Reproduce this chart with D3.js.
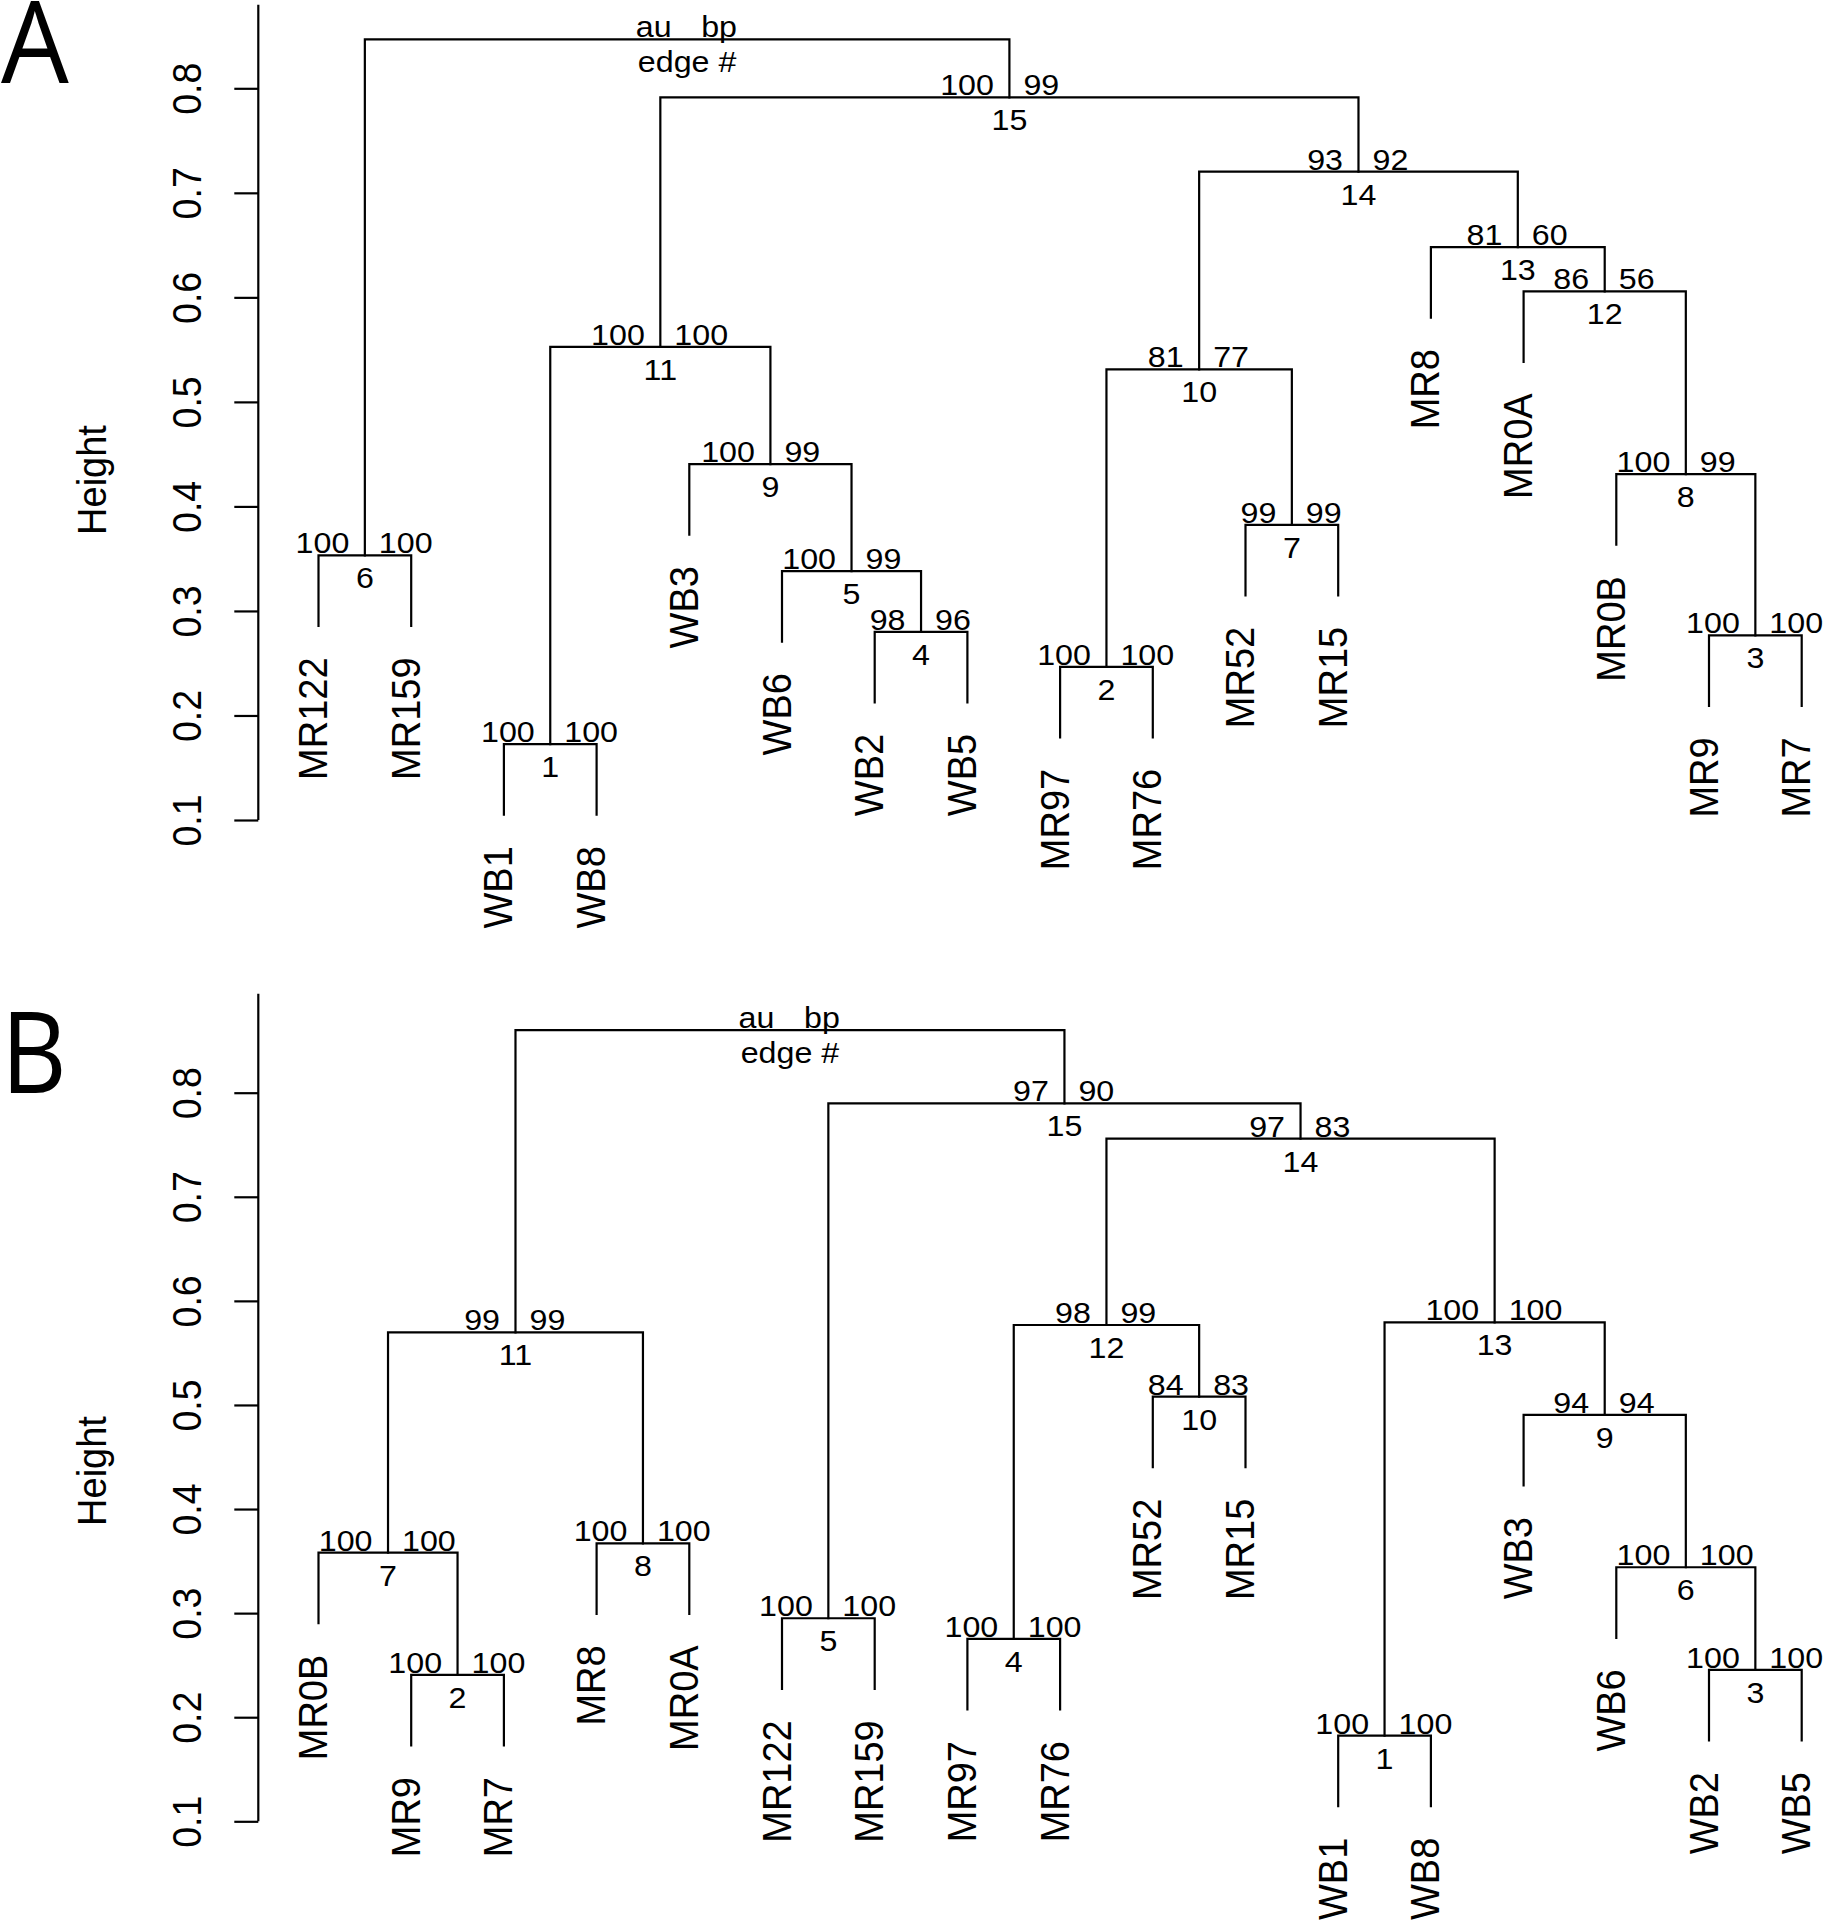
<!DOCTYPE html>
<html><head><meta charset="utf-8">
<script src="https://cdn.jsdelivr.net/npm/d3@7/dist/d3.min.js"></script>
<style>body{margin:0;background:#fff}</style>
</head><body>
<svg id="chart" width="1823" height="1920"></svg>
<script>
// ---------- Panel A data (leaves in display order; merges R-style: negative = leaf, positive = earlier merge) ----------
const leavesA = ["MR122","MR159","WB1","WB8","WB3","WB6","WB2","WB5","MR97","MR76","MR52","MR15","MR8","MR0A","MR0B","MR9","MR7"];
const mergeA = [[-3,-4],[-9,-10],[-16,-17],[-7,-8],[-6,4],[-1,-2],[-11,-12],[-15,3],[-5,5],[2,7],[1,9],[-14,8],[-13,12],[10,13],[11,14],[6,15]];
const heightA = [0.1725,0.2465,0.2766,0.2800,0.3381,0.3531,0.3824,0.4309,0.4405,0.5311,0.5527,0.6057,0.6481,0.7202,0.7914,0.8469];
const auA = [100,100,100,98,100,100,99,100,100,81,100,86,81,93,100];
const bpA = [100,100,100,96,99,100,99,99,99,77,100,56,60,92,99];

// ---------- Panel B data ----------
const leavesB = ["MR0B","MR9","MR7","MR8","MR0A","MR122","MR159","MR97","MR76","MR52","MR15","WB1","WB8","WB3","WB6","WB2","WB5"];
const mergeB = [[-12,-13],[-2,-3],[-16,-17],[-8,-9],[-6,-7],[-15,3],[-1,2],[-4,-5],[-14,6],[-10,-11],[7,8],[4,10],[1,9],[12,13],[5,14],[11,15]];
const heightB = [0.1823,0.2406,0.2454,0.2752,0.2951,0.3441,0.3581,0.3671,0.4904,0.5080,0.5698,0.5768,0.5794,0.7558,0.7898,0.8602];
const auB = [100,100,100,100,100,100,100,100,94,84,99,98,100,97,97];
const bpB = [100,100,100,100,100,100,100,100,94,83,99,99,100,83,90];

// ---------- axis ticks / labels ----------
const tickValues = [0.1,0.2,0.3,0.4,0.5,0.6,0.7,0.8];
const yTitle = "Height";
const panelLetters = ["A","B"];
const rootLabels = {au:"au", bp:"bp", edge:"edge #"};

// ---------- layout ----------
const svg = d3.select("#chart");
const FONT = "'Liberation Sans', Arial, Helvetica, sans-serif";
const SX = 1.06;         // slight horizontal stretch of the original figure
const LW = 2.2;
const axisX = 258.3;

const x = d3.scaleLinear().domain([1, 17]).range([318.5, 1801.7]);

const panels = [
  {letter: panelLetters[0], leaves: leavesA, merge: mergeA, height: heightA, au: auA, bp: bpA,
   yRange: [820, 88.3], axisTop: 0.880, titleY: 480, letterY: 83, letterX: 1, letterSX: 0.95},
  {letter: panelLetters[1], leaves: leavesB, merge: mergeB, height: heightB, au: auB, bp: bpB,
   yRange: [1821.3, 1092.7], axisTop: 0.895, titleY: 1471, letterY: 1093, letterX: 1, letterSX: 0.9}
];

function txt(g, s, tx, ty, anchor, size, rotate) {
  return g.append("text")
    .attr("transform", `translate(${tx},${ty}) scale(${SX},1)` + (rotate ? " rotate(-90)" : ""))
    .attr("text-anchor", anchor)
    .attr("font-family", FONT)
    .attr("font-size", size)
    .attr("fill", "#000")
    .text(s);
}

panels.forEach(p => {
  const g = svg.append("g");
  const y = d3.scaleLinear().domain([0.1, 0.8]).range(p.yRange);

  // panel letter
  g.append("text")
    .attr("transform", `translate(${p.letterX},${p.letterY}) scale(${p.letterSX},1)`)
    .attr("font-family", "'Open Sans', 'Noto Sans', sans-serif")
    .attr("font-size", 113).attr("fill", "#000").text(p.letter);

  // y axis
  const ax = g.append("g").attr("transform", `translate(${axisX},0)`)
    .call(d3.axisLeft(y).tickValues(tickValues).tickSize(24).tickFormat(d3.format(".1f")));
  ax.select(".domain").remove();
  ax.append("line").attr("x1", 0).attr("x2", 0)
    .attr("y1", y(0.1)).attr("y2", y(p.axisTop))
    .attr("stroke", "#000").attr("stroke-width", LW);
  ax.selectAll(".tick line").attr("stroke", "#000").attr("stroke-width", LW);
  ax.selectAll(".tick text")
    .attr("x", null).attr("dy", null)
    .attr("transform", `translate(${201 - axisX},0) scale(${SX},1) rotate(-90)`)
    .attr("text-anchor", "middle")
    .attr("font-family", FONT).attr("font-size", 37.5).attr("fill", "#000");

  // axis title
  txt(g, yTitle, 106, p.titleY, "middle", 38, true);

  // dendrogram
  const h = p.height;
  const hang = 0.1 * (d3.max(h) - d3.min(h));
  const nodeX = [];
  const leafEnd = [];
  const lines = g.append("g").attr("fill", "none").attr("stroke", "#000").attr("stroke-width", LW);
  p.merge.forEach((m, i) => {
    const ends = m.map(r => {
      if (r < 0) { leafEnd[-r - 1] = h[i] - hang; return {xv: -r, yv: h[i] - hang}; }
      return {xv: nodeX[r - 1], yv: h[r - 1]};
    });
    nodeX[i] = (ends[0].xv + ends[1].xv) / 2;
    const path = d3.path();
    path.moveTo(x(ends[0].xv), y(ends[0].yv));
    path.lineTo(x(ends[0].xv), y(h[i]));
    path.lineTo(x(ends[1].xv), y(h[i]));
    path.lineTo(x(ends[1].xv), y(ends[1].yv));
    lines.append("path").attr("d", path.toString()).attr("stroke-linejoin", "miter").attr("stroke-linecap", "square");
  });

  // leaf labels
  p.leaves.forEach((name, j) => {
    txt(g, name, x(j + 1) + 8.5, y(leafEnd[j]) + 31.5, "end", 38, true);
  });

  // au / bp / edge labels
  const nMerge = p.merge.length;
  p.merge.forEach((m, i) => {
    const cx = x(nodeX[i]), cy = y(h[i]);
    const isRoot = i === nMerge - 1;
    const a = isRoot ? rootLabels.au : String(p.au[i]);
    const b = isRoot ? rootLabels.bp : String(p.bp[i]);
    const e = isRoot ? rootLabels.edge : String(i + 1);
    txt(g, a, cx - 15.5, cy - 2, "end", 30.4, false);
    txt(g, b, cx + 14, cy - 2, "start", 30.4, false);
    txt(g, e, cx, cy + 33, "middle", 30.4, false);
  });
});
</script>
</body></html>
